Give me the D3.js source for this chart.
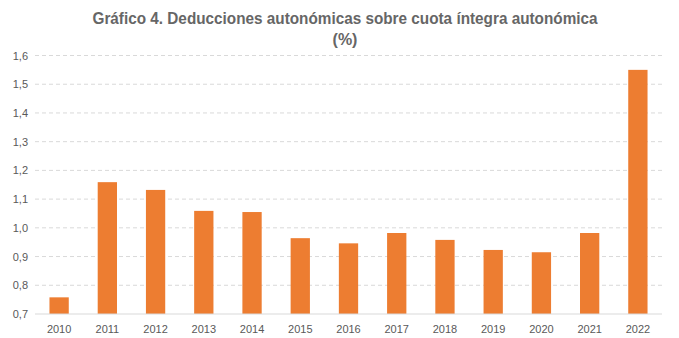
<!DOCTYPE html>
<html><head><meta charset="utf-8">
<script src="https://cdn.jsdelivr.net/npm/d3@7"></script>
<style>body{margin:0;background:#fff}svg{display:block}</style>
</head><body>
<script>
const categories = ["2010","2011","2012","2013","2014","2015","2016","2017","2018","2019","2020","2021","2022"];
const values = [0.758,1.159,1.132,1.059,1.055,0.964,0.946,0.982,0.958,0.923,0.915,0.982,1.55];
const yTicks = [0.7,0.8,0.9,1.0,1.1,1.2,1.3,1.4,1.5,1.6];
const titleLines = ["Gráfico 4. Deducciones autonómicas sobre cuota íntegra autonómica","(%)"];

const W=679,H=338;
const m={left:35,right:17,top:55.5,bottom:24};
const svg=d3.select("body").append("svg").attr("width",W).attr("height",H);
const font="'Liberation Sans Narrow','Arial Narrow','Liberation Sans',Arial,sans-serif";
const x=d3.scaleBand().domain(categories).range([m.left,W-m.right]).paddingInner(0.6).paddingOuter(0.3);
const y=d3.scaleLinear().domain([0.7,1.6]).range([H-m.bottom,m.top]);

svg.append("g").selectAll("line").data(yTicks.slice(1)).join("line")
 .attr("x1",m.left).attr("x2",W-m.right).attr("y1",d=>y(d)).attr("y2",d=>y(d))
 .attr("stroke","#d9d9d9").attr("stroke-dasharray","4,3").attr("stroke-width",1);

svg.append("g").selectAll("rect").data(values).join("rect")
 .attr("x",(d,i)=>x(categories[i])).attr("width",x.bandwidth())
 .attr("y",d=>y(d)).attr("height",d=>y(0.7)-y(d)).attr("fill","#ED7D31");

svg.append("line").attr("x1",m.left).attr("x2",W-m.right).attr("y1",y(0.7)).attr("y2",y(0.7)).attr("stroke","#d9d9d9");

const ya=d3.axisLeft(y).tickValues(yTicks).tickFormat(d=>d3.format(".1f")(d).replace(".",",")).tickSize(0).tickPadding(7);
const gy=svg.append("g").attr("transform",`translate(${m.left},0)`).call(ya);
gy.select(".domain").remove();
gy.selectAll("text").attr("fill","#595959").style("font-family",font).style("font-size","11px");

const xa=d3.axisBottom(x).tickSize(0).tickPadding(11);
const gx=svg.append("g").attr("transform",`translate(0,${y(0.7)})`).call(xa);
gx.select(".domain").remove();
gx.selectAll("text").attr("fill","#595959").style("font-family",font).style("font-size","11px");

svg.append("g").selectAll("text").data(titleLines).join("text")
 .attr("x",345).attr("y",(d,i)=>24+i*21).attr("text-anchor","middle")
 .attr("fill","#666666").style("font-family",font).style("font-size","16px").style("font-weight","bold")
 .attr("textLength",(d,i)=>i===0?505:null).attr("lengthAdjust","spacingAndGlyphs")
 .text(d=>d);
</script>
</body></html>
